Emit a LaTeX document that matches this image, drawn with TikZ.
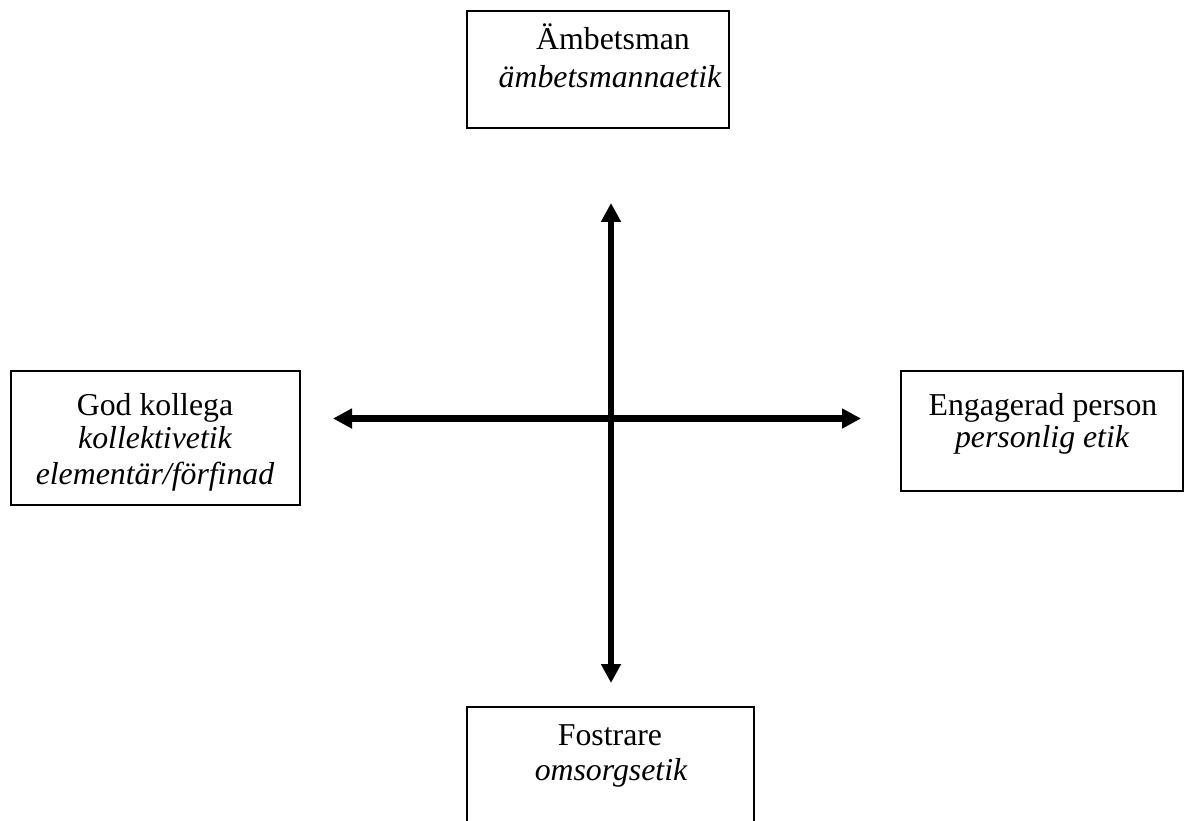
\documentclass[tikz,border=0pt]{standalone}
\usepackage{fontspec}
\setmainfont{Liberation Serif}
\usetikzlibrary{arrows.meta}
\begin{document}
\begin{tikzpicture}[x=1pt,y=-1pt,
  box/.style={draw=black, line width=2pt, fill=none, inner sep=0pt},
  lbl/.style={anchor=base, inner sep=0pt, font=\fontsize{31.8}{36}\selectfont},
  ilbl/.style={lbl, font=\fontsize{31.8}{36}\selectfont\itshape},
  axis/.style={line width=6.5pt, {Triangle[length=19pt,width=19pt]}-{Triangle[length=19pt,width=19pt]}}]
\useasboundingbox (0,0) rectangle (1186,821);
% boxes
\node[box, minimum width=262pt, minimum height=117pt] (topbox) at (598,69.5) {};
\node[box, minimum width=289pt, minimum height=134pt] (leftbox) at (155.5,438) {};
\node[box, minimum width=282pt, minimum height=120pt] (rightbox) at (1042,431) {};
\node[box, minimum width=287pt, minimum height=126pt] (bottombox) at (610.5,770) {};
% texts
\node[lbl] (t1) at (613,50) {Ämbetsman};
\node[ilbl] (t2) at (610,88) {ämbetsmannaetik};
\node[lbl] (l1) at (155,415) {God kollega};
\node[ilbl] (l2) at (155,448) {kollektivetik};
\node[ilbl] (l3) at (155,484) {elementär/förfinad};
\node[lbl] (r1) at (1043,415) {Engagerad person};
\node[ilbl] (r2) at (1042,447) {personlig etik};
\node[lbl] (b1) at (610,745) {Fostrare};
\node[ilbl] (b2) at (611,780) {omsorgsetik};
% arrows
\coordinate (vtop) at (611,203);
\coordinate (vbot) at (611,683);
\coordinate (hleft) at (333,418.5);
\coordinate (hright) at (861,418.5);
\draw[axis] (vtop) -- (vbot);
\draw[axis] (hleft) -- (hright);
\end{tikzpicture}
\end{document}
